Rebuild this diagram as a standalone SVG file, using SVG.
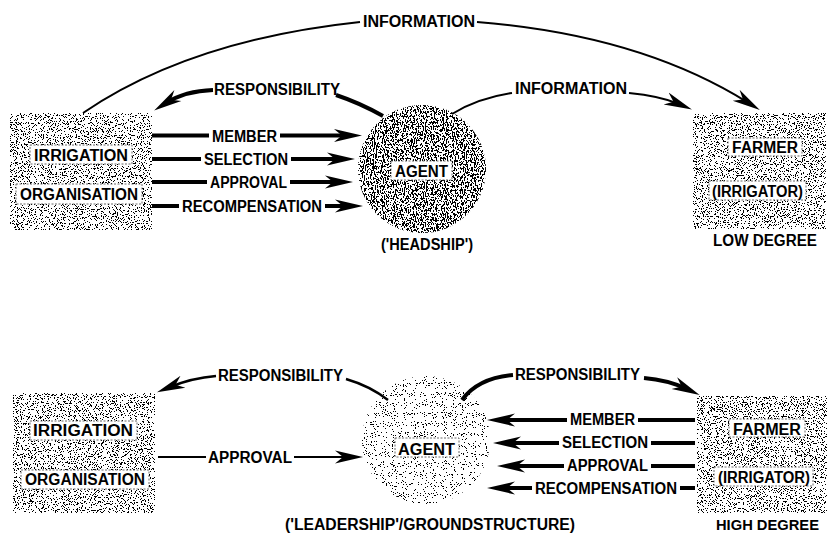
<svg xmlns="http://www.w3.org/2000/svg" width="827" height="536" viewBox="0 0 827 536">
  <style>
    .t { font-family: "Liberation Sans Narrow", "Liberation Sans", Arial, sans-serif; font-weight: bold; font-size: 16px; fill: #000; }
    .thick { fill: none; stroke: #000; stroke-width: 4; }
    .thin { fill: none; stroke: #000; stroke-width: 2; }
    .mid { fill: none; stroke: #000; stroke-width: 2.5; }
    .tag { fill: #fff; stroke: #444; stroke-width: 0.8; stroke-dasharray: 2 1.5; }
  </style>
  <defs>
    <!-- barbed arrowhead; the path stops 14px short of the tip -->
    <marker id="ah" markerUnits="userSpaceOnUse" markerWidth="30" markerHeight="16" viewBox="0 0 30 16" refX="14" refY="8" orient="auto">
      <path d="M28,8 L0,1.5 L8,8 L0,14.5 Z" fill="#000"/>
    </marker>
    <!-- halftone grain: thresholded noise clipped to the shape -->
    <filter id="grainBox" x="0" y="0" width="1" height="1">
      <feTurbulence type="fractalNoise" baseFrequency="0.85" numOctaves="2" seed="7" result="n"/>
      <feColorMatrix in="n" type="matrix" values="0 0 0 0 0  0 0 0 0 0  0 0 0 0 0  1 0 0 0 0" result="na"/>
      <feComponentTransfer in="na" result="d"><feFuncA type="discrete" tableValues="0 0 0 0 0 0 0 0 0 0 0 0 1 1 1 1 1 1 1 1"/></feComponentTransfer>
      <feComposite in="d" in2="SourceGraphic" operator="in"/>
    </filter>
    <filter id="grainDark" x="0" y="0" width="1" height="1">
      <feTurbulence type="fractalNoise" baseFrequency="0.9 0.5" numOctaves="2" seed="3" result="n"/>
      <feColorMatrix in="n" type="matrix" values="0 0 0 0 0  0 0 0 0 0  0 0 0 0 0  1 0 0 0 0" result="na"/>
      <feComponentTransfer in="na" result="d"><feFuncA type="discrete" tableValues="0 0 0 0 0 0 0 0 0 0 0 0 0 1 1 1 1 1 1 1 1 1 1 1 1"/></feComponentTransfer>
      <feComposite in="d" in2="SourceGraphic" operator="in"/>
    </filter>
    <filter id="grainLight" x="0" y="0" width="1" height="1">
      <feTurbulence type="fractalNoise" baseFrequency="0.9" numOctaves="1" seed="11" result="n"/>
      <feColorMatrix in="n" type="matrix" values="0 0 0 0 0  0 0 0 0 0  0 0 0 0 0  1 0 0 0 0" result="na"/>
      <feComponentTransfer in="na" result="d"><feFuncA type="discrete" tableValues="0 0 0 0 0 0 0 0 0 0 0 0 0 1 1 1 1 1 1 1"/></feComponentTransfer>
      <feComposite in="d" in2="SourceGraphic" operator="in"/>
    </filter>
  </defs>

  <rect width="827" height="536" fill="#fff"/>

  <!-- ===== upper diagram: headship ===== -->
  <g id="irrigation-org-top">
    <rect x="10" y="113" width="142" height="117" fill="#000" filter="url(#grainBox)"/>
    <rect class="tag" x="30" y="145" width="102" height="19"/>
    <rect class="tag" x="16" y="184" width="126" height="20"/>
    <text class="t" x="34" y="161" textLength="94" lengthAdjust="spacingAndGlyphs">IRRIGATION</text>
    <text class="t" x="20" y="200" textLength="118" lengthAdjust="spacingAndGlyphs">ORGANISATION</text>
  </g>

  <g id="agent-top">
    <circle cx="422" cy="169" r="64" fill="#000" filter="url(#grainDark)"/>
    <rect class="tag" x="391" y="161" width="61" height="19"/>
    <text class="t" x="395" y="177" textLength="53" lengthAdjust="spacingAndGlyphs">AGENT</text>
    <text class="t" x="381" y="250" textLength="92" lengthAdjust="spacingAndGlyphs">('HEADSHIP')</text>
  </g>

  <g id="farmer-top">
    <rect x="693" y="113" width="133" height="116" fill="#000" filter="url(#grainBox)"/>
    <rect class="tag" x="728" y="138" width="74" height="18"/>
    <rect class="tag" x="709" y="181" width="97" height="19"/>
    <text class="t" x="732" y="153" textLength="66" lengthAdjust="spacingAndGlyphs">FARMER</text>
    <text class="t" x="712" y="197" textLength="91" lengthAdjust="spacingAndGlyphs">(IRRIGATOR)</text>
    <text class="t" x="713" y="246" textLength="104" lengthAdjust="spacingAndGlyphs">LOW DEGREE</text>
  </g>

  <!-- ===== lower diagram: leadership ===== -->
  <g id="irrigation-org-bottom">
    <rect x="13" y="393" width="142" height="120" fill="#000" filter="url(#grainBox)"/>
    <rect class="tag" x="30" y="421" width="107" height="19"/>
    <rect class="tag" x="21" y="470" width="128" height="19"/>
    <text class="t" x="33" y="436" textLength="100" lengthAdjust="spacingAndGlyphs">IRRIGATION</text>
    <text class="t" x="25" y="485" textLength="120" lengthAdjust="spacingAndGlyphs">ORGANISATION</text>
  </g>

  <g id="agent-bottom">
    <circle cx="426" cy="440" r="64" fill="#000" filter="url(#grainLight)"/>
    <rect class="tag" x="395" y="438" width="64" height="19"/>
    <text class="t" x="398" y="455" textLength="57" lengthAdjust="spacingAndGlyphs">AGENT</text>
    <text class="t" x="285" y="530" textLength="290" lengthAdjust="spacingAndGlyphs">('LEADERSHIP'/GROUNDSTRUCTURE)</text>
  </g>

  <g id="farmer-bottom">
    <rect x="697" y="396" width="130" height="117" fill="#000" filter="url(#grainBox)"/>
    <rect class="tag" x="729" y="419" width="76" height="18"/>
    <rect class="tag" x="714" y="467" width="99" height="19"/>
    <text class="t" x="733" y="435" textLength="68" lengthAdjust="spacingAndGlyphs">FARMER</text>
    <text class="t" x="718" y="483" textLength="92" lengthAdjust="spacingAndGlyphs">(IRRIGATOR)</text>
    <text class="t" x="716" y="530" style="font-size:15px" textLength="103" lengthAdjust="spacingAndGlyphs">HIGH DEGREE</text>
  </g>

  <!-- ===== connectors ===== -->
  <g id="connectors">
    <!-- upper: information arcs -->
    <path class="thin" d="M83,113 Q190,40 360,22"/>
    <text class="t" x="363" y="27" textLength="112" lengthAdjust="spacingAndGlyphs">INFORMATION</text>
    <path class="thin" d="M477,22 Q640,35 748,102.6" marker-end="url(#ah)"/>

    <path class="thin" d="M452,114 Q478,98 512,93"/>
    <text class="t" x="515" y="94" textLength="112" lengthAdjust="spacingAndGlyphs">INFORMATION</text>
    <path class="thin" d="M629,93 Q660,96 679,104" marker-end="url(#ah)"/>

    <!-- upper: responsibility back to the organisation -->
    <path class="thick" d="M383,116 Q360,103 336,95"/>
    <text class="t" x="214" y="95" textLength="126" lengthAdjust="spacingAndGlyphs">RESPONSIBILITY</text>
    <path class="thick" d="M213,90 Q185,91 166,103" marker-end="url(#ah)"/>

    <!-- upper: organisation to agent -->
    <path class="thick" d="M152,135.5 H209"/>
    <text class="t" x="212" y="141.5" textLength="65" lengthAdjust="spacingAndGlyphs">MEMBER</text>
    <path class="thick" d="M280,135.5 H348" marker-end="url(#ah)"/>

    <path class="thick" d="M152,159 H201"/>
    <text class="t" x="204" y="165" textLength="84" lengthAdjust="spacingAndGlyphs">SELECTION</text>
    <path class="thick" d="M291,159 H341" marker-end="url(#ah)"/>

    <path class="thick" d="M152,182 H207"/>
    <text class="t" x="210" y="188" textLength="77" lengthAdjust="spacingAndGlyphs">APPROVAL</text>
    <path class="thick" d="M290,182 H339" marker-end="url(#ah)"/>

    <path class="thick" d="M152,206 H179"/>
    <text class="t" x="182" y="212" textLength="140" lengthAdjust="spacingAndGlyphs">RECOMPENSATION</text>
    <path class="thick" d="M325,206 H349" marker-end="url(#ah)"/>

    <!-- lower: responsibility to the organisation -->
    <path class="mid" d="M388,400 Q370,386 346,379"/>
    <text class="t" x="218" y="381" textLength="125" lengthAdjust="spacingAndGlyphs">RESPONSIBILITY</text>
    <path class="mid" d="M216,376 Q192,378 170,387" marker-end="url(#ah)"/>

    <!-- lower: approval to agent -->
    <path class="thin" d="M158,457 H206"/>
    <text class="t" x="208" y="463" textLength="84" lengthAdjust="spacingAndGlyphs">APPROVAL</text>
    <path class="thin" d="M294,457 H349" marker-end="url(#ah)"/>

    <!-- lower: responsibility to the farmer -->
    <path class="thick" d="M462,400 Q478,378 513,375"/>
    <text class="t" x="515" y="380" textLength="125" lengthAdjust="spacingAndGlyphs">RESPONSIBILITY</text>
    <path class="thick" d="M644,378 Q668,380 687,389" marker-end="url(#ah)"/>

    <!-- lower: farmer to agent -->
    <path class="thick" d="M695,420 H638"/>
    <text class="t" x="570" y="425" textLength="65" lengthAdjust="spacingAndGlyphs">MEMBER</text>
    <path class="thick" d="M567,420 H501" marker-end="url(#ah)"/>

    <path class="thick" d="M695,443 H651"/>
    <text class="t" x="562" y="448" textLength="86" lengthAdjust="spacingAndGlyphs">SELECTION</text>
    <path class="thick" d="M559,443 H507" marker-end="url(#ah)"/>

    <path class="thick" d="M695,466 H651"/>
    <text class="t" x="567" y="471" textLength="81" lengthAdjust="spacingAndGlyphs">APPROVAL</text>
    <path class="thick" d="M564,466 H511" marker-end="url(#ah)"/>

    <path class="thick" d="M695,488 H680"/>
    <text class="t" x="535" y="494" textLength="142" lengthAdjust="spacingAndGlyphs">RECOMPENSATION</text>
    <path class="thick" d="M532,488 H501" marker-end="url(#ah)"/>
  </g>
</svg>
